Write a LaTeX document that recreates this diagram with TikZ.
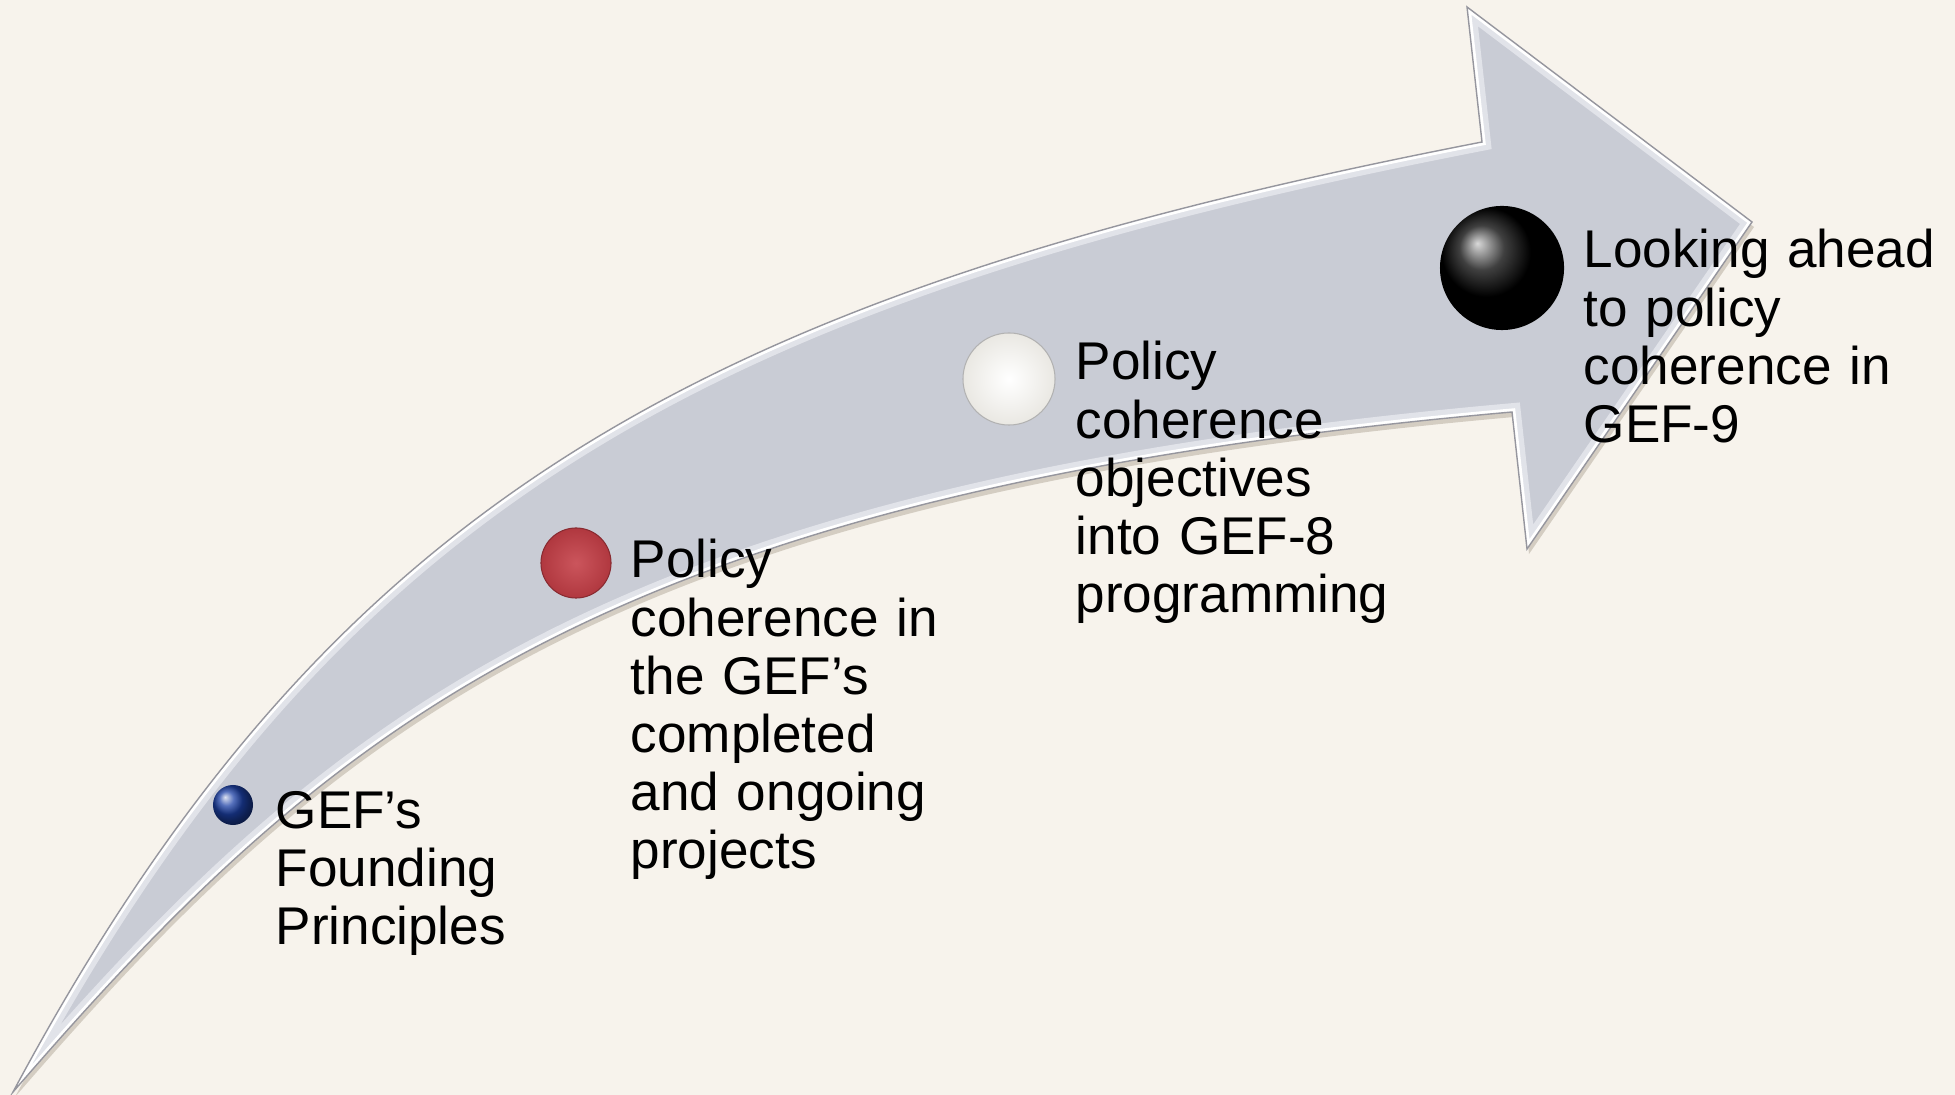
\documentclass[tikz,border=0pt]{standalone}
\usepackage{fontspec}
\setmainfont{Liberation Sans}
\usepackage{tikz}
\usetikzlibrary{positioning}

\definecolor{bgcream}{RGB}{247,243,236}
\definecolor{arrowgrey}{RGB}{201,204,213}
\definecolor{bevellight}{RGB}{236,237,242}
\definecolor{edgegrey}{RGB}{150,150,158}
\definecolor{shadowbrown}{RGB}{170,160,145}
\definecolor{gefblue}{RGB}{28,64,165}
\definecolor{gefred}{RGB}{196,62,70}
\definecolor{gefwhite}{RGB}{248,246,240}

\newcommand{\arrowshape}{(13,1092) .. controls (330,500) and (700,294) .. (1482,142)
  -- (1467,7) -- (1752,222) -- (1527,549) -- (1512,412)
  .. controls (600,493) and (330,726) .. (13,1092) -- cycle}

\begin{document}
\begin{tikzpicture}[x=0.01cm, y=-0.01cm,
    ball/.style={circle, inner sep=0pt, shade},
    steptext/.style={anchor=base west, inner sep=0pt, align=left, text width=4cm,
      font=\fontsize{15.1pt}{16.5pt}\selectfont}]
    %\draw [step=100] (0,0) grid (1955,1095);
    \fill[bgcream] (0,0) rectangle (1955,1095);
    \useasboundingbox (0,0) rectangle (1955,1095);

    \fill[shadowbrown, opacity=0.45, shift={(2,5)}] \arrowshape;
    \fill[arrowgrey] \arrowshape;
    \begin{scope}
        \clip \arrowshape;
        \draw[bevellight, line width=5pt, opacity=0.7] \arrowshape;
        \draw[white, line width=2pt] \arrowshape;
    \end{scope}
    \draw[edgegrey, line width=0.4pt] \arrowshape;

    \node[ball, minimum size=0.40cm, ball color=gefblue] (b1) at (233,805) {};
    \node[ball, minimum size=0.70cm, inner color=gefred!88!white, outer color=gefred!90!black,
          draw=gefred!70!black, line width=0.3pt] (b2) at (576,563) {};
    \node[ball, minimum size=0.92cm, inner color=white, outer color=gefwhite!88!gray,
          draw=gray!60, line width=0.3pt] (b3) at (1009,379) {};
    \node[ball, minimum size=1.24cm, ball color=black] (b4) at (1502,268) {};

    \node[steptext] (t1) at (275,828) {GEF’s\\Founding\\Principles};
    \node[steptext] (t2) at (630,578) {Policy\\coherence in\\the GEF’s\\completed\\and ongoing\\projects};
    \node[steptext] (t3) at (1075,380) {Policy\\coherence\\objectives\\into GEF-8\\programming};
    \node[steptext] (t4) at (1583,268) {Looking ahead\\to policy\\coherence in\\GEF-9};
\end{tikzpicture}
\end{document}
